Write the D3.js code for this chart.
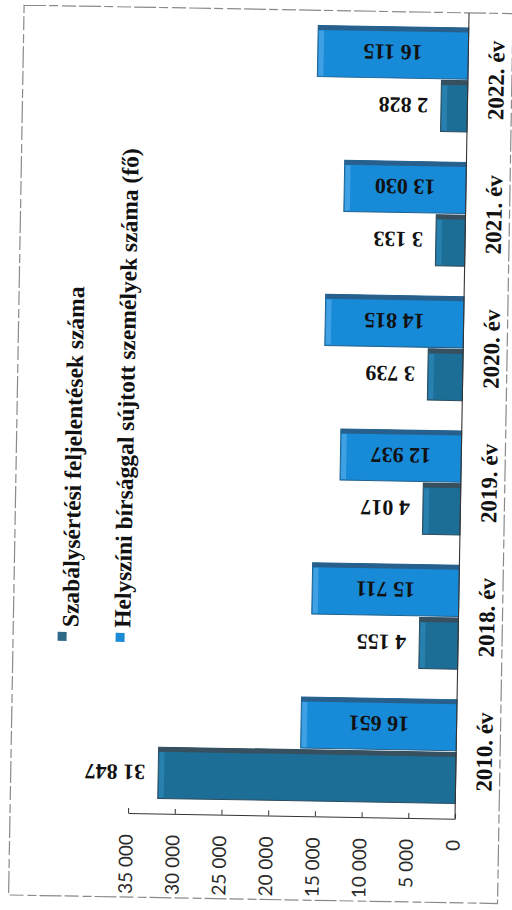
<!DOCTYPE html>
<html><head><meta charset="utf-8">
<script src="https://cdn.jsdelivr.net/npm/d3@7/dist/d3.min.js"></script>
<style>body{margin:0;background:#fff}svg{display:block}</style>
</head><body><svg id="c" width="512" height="910"></svg>
<script>
const categories = ["2010. év","2018. év","2019. év","2020. év","2021. év","2022. év"];
const seriesNames = ["Szabálysértési feljelentések száma","Helyszíni bírsággal sújtott személyek száma (fő)"];
const feljelentesek = [31847, 4155, 4017, 3739, 3133, 2828];
const birsag = [16651, 15711, 12937, 14815, 13030, 16115];
const tickValues = [0,5000,10000,15000,20000,25000,30000,35000];

const loc = d3.formatLocale({decimal:",", thousands:" ", grouping:[3], currency:["",""]});
const fmt = loc.format(",d");

const serif = "'Liberation Serif','DejaVu Serif',serif";
const sans = "Lato,'Open Sans',sans-serif";

const svg = d3.select("#c");
svg.append("rect").attr("width",512).attr("height",910).attr("fill","#fff");
const g = svg.append("g").attr("transform","rotate(1,300,415)");

// scanned page border
g.append("rect").attr("x",17).attr("y",10).attr("width",489).attr("height",890)
  .attr("fill","none").attr("stroke","#8a8a8a").attr("stroke-width",1.2)
  .attr("stroke-dasharray","22 3 9 4 14 3");

const x = d3.scaleLinear().domain([0,35000]).range([462,135]);
const y0 = d3.scaleBand().domain(categories).range([816,10]).paddingInner(0.226).paddingOuter(0.113);
const keys = ["birsag","feljelentes"];
const y1 = d3.scaleBand().domain(keys).range([0,y0.bandwidth()]).paddingInner(0.03);

const colors = {
  feljelentes:{main:"#1d6e97", top:"#37505f", end:"#2a84b4", stroke:"#2d4b5d"},
  birsag:{main:"#178ad8", top:"#27608d", end:"#4aa6e6", stroke:"#22628f"}
};

const rows = categories.map((c,i)=>({cat:c, birsag:birsag[i], feljelentes:feljelentesek[i]}));

rows.forEach(r=>{
  keys.forEach(k=>{
    const v = r[k], col = colors[k];
    const yy = y0(r.cat)+y1(k), h = y1.bandwidth();
    const xl = x(v), w = x(0)-x(v);
    const bg = g.append("g");
    bg.append("rect").attr("x",xl).attr("y",yy).attr("width",w).attr("height",h)
      .attr("fill",col.main).attr("stroke",col.stroke).attr("stroke-width",1);
    bg.append("rect").attr("x",xl).attr("y",yy).attr("width",w).attr("height",4.5)
      .attr("fill",col.top);
    bg.append("rect").attr("x",xl+1).attr("y",yy+5).attr("width",5).attr("height",h-6)
      .attr("fill",col.end).attr("opacity",0.8);
    const cy = yy+h/2;
    if(k==="birsag"){
      g.append("text").attr("transform",`translate(${(x(v)+x(0))/2},${cy}) rotate(180)`)
        .attr("text-anchor","middle").attr("dy","0.35em")
        .style("font-family",serif).style("font-weight","bold").style("font-size","22px")
        .attr("fill","#111").text(fmt(v));
    } else {
      g.append("text").attr("transform",`translate(${x(v)-13},${cy}) rotate(180)`)
        .attr("text-anchor","start").attr("dy","0.35em")
        .style("font-family",serif).style("font-weight","bold").style("font-size","22px")
        .attr("fill","#111").text(fmt(v));
    }
  });
  g.append("text").attr("transform",`translate(498,${y0(r.cat)+y0.bandwidth()/2}) rotate(-90)`)
    .attr("text-anchor","middle")
    .style("font-family",serif).style("font-weight","bold").style("font-size","23px")
    .attr("fill","#111").text(r.cat);
});

g.append("line").attr("x1",x(0)).attr("x2",x(0)).attr("y1",10).attr("y2",816)
  .attr("stroke","#333").attr("stroke-width",1.1);

const ax = g.append("g").attr("transform","translate(0,816)")
  .call(d3.axisBottom(x).tickValues(tickValues).tickSize(-5).tickSizeOuter(0).tickFormat(fmt));
ax.select(".domain").attr("stroke","#333").attr("stroke-width",1.1);
ax.selectAll(".tick line").attr("stroke","#333");
ax.selectAll(".tick text")
  .attr("transform","rotate(-90)").attr("x",-21).attr("y",-2).attr("dy","0.35em")
  .attr("text-anchor","end")
  .style("font-family",sans).style("font-size","19px").attr("fill","#2a2a2a");

const legend = [
  {name:seriesNames[0], color:"#2f6988", sx:66, tx:82},
  {name:seriesNames[1], color:"#1d8ad6", sx:124, tx:134}
];
legend.forEach(l=>{
  g.append("rect").attr("x",l.sx-4.5).attr("y",636).attr("width",9).attr("height",9)
    .attr("fill",l.color);
  g.append("text").attr("transform",`translate(${l.tx},631) rotate(-90)`)
    .attr("text-anchor","start")
    .style("font-family",serif).style("font-weight","bold").style("font-size","23.5px")
    .attr("fill","#111").text(l.name);
});
</script></body></html>
